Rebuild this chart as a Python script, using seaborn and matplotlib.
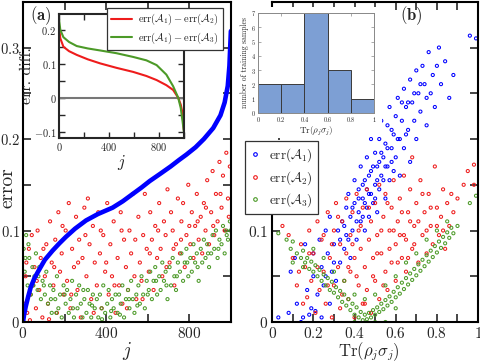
import numpy as np
import matplotlib
matplotlib.use('Agg')
import matplotlib.pyplot as plt
from matplotlib.ticker import MultipleLocator, FuncFormatter, FixedLocator
from matplotlib.lines import Line2D
from matplotlib.patches import Rectangle
import seaborn as sns

# --- data ---

# panel (a): sorted err(A1) against sample index j
blue_j = [0, 5, 13, 25, 37, 55, 77, 105, 142, 175, 206, 250, 303, 360, 431, 480, 528,
          570, 609, 660, 710, 750, 786, 830, 870, 915, 950, 970, 985, 993, 1000]
blue_err = [0.0, 0.008, 0.017, 0.028, 0.038, 0.048, 0.057, 0.068, 0.078, 0.086, 0.093,
            0.102, 0.111, 0.118, 0.125, 0.132, 0.140, 0.147, 0.154, 0.162, 0.170, 0.177,
            0.183, 0.191, 0.200, 0.212, 0.226, 0.240, 0.258, 0.280, 0.318]

# panel (a): err(A2) scatter
red_a = [(5, 0.02), (12, 0.05), (20, 0.01), (28, 0.08), (35, 0.03), (42, 0.095), (48, 0.04),
         (55, 0.06), (62, 0.015), (70, 0.1), (78, 0.035), (85, 0.07), (93, 0.005),
         (105, 0.05), (112, 0.085), (120, 0.02), (130, 0.11), (138, 0.065), (146, 0.04),
         (155, 0.09), (163, 0.01), (170, 0.12), (178, 0.055), (186, 0.075), (195, 0.03),
         (205, 0.1), (212, 0.045), (220, 0.13), (228, 0.015), (236, 0.08), (245, 0.06),
         (255, 0.115), (262, 0.035), (270, 0.09), (278, 0.005), (286, 0.07), (295, 0.125),
         (305, 0.05), (312, 0.135), (320, 0.085), (328, 0.025), (336, 0.105), (345, 0.065),
         (355, 0.04), (362, 0.12), (370, 0.075), (378, 0.015), (386, 0.095), (395, 0.055),
         (405, 0.13), (412, 0.03), (420, 0.085), (428, 0.05), (436, 0.11), (445, 0.01),
         (455, 0.07), (462, 0.04), (470, 0.12), (478, 0.02), (486, 0.09), (495, 0.06),
         (505, 0.035), (512, 0.1), (520, 0.075), (528, 0.14), (536, 0.05), (545, 0.025),
         (555, 0.115), (562, 0.065), (570, 0.045), (578, 0.095), (586, 0.14), (595, 0.08),
         (605, 0.055), (612, 0.12), (620, 0.09), (628, 0.035), (636, 0.105), (645, 0.07),
         (655, 0.13), (662, 0.08), (670, 0.05), (678, 0.11), (686, 0.095), (695, 0.145),
         (705, 0.065), (712, 0.12), (720, 0.1), (728, 0.04), (736, 0.085), (745, 0.135),
         (755, 0.075), (762, 0.11), (770, 0.13), (778, 0.06), (786, 0.095), (795, 0.15),
         (805, 0.085), (812, 0.12), (820, 0.07), (828, 0.105), (836, 0.14), (845, 0.09),
         (855, 0.115), (862, 0.075), (870, 0.13), (878, 0.1), (886, 0.155), (895, 0.085),
         (905, 0.12), (912, 0.165), (920, 0.095), (928, 0.14), (936, 0.11), (945, 0.175),
         (955, 0.125), (962, 0.16), (970, 0.1), (978, 0.185), (986, 0.135), (995, 0.17),
         (16, 0.065), (33, 0.002), (66, 0.045), (98, 0.08), (125, 0.003), (150, 0.06),
         (190, 0.105), (232, 0.03), (265, 0.065), (300, 0.095), (340, 0.01), (374, 0.1),
         (400, 0.065), (440, 0.04), (474, 0.1), (500, 0.015), (540, 0.09), (575, 0.025),
         (610, 0.075), (650, 0.1), (690, 0.06), (724, 0.08), (760, 0.09), (800, 0.105),
         (840, 0.11), (880, 0.125), (915, 0.105), (950, 0.14), (990, 0.115)]

# panel (a): err(A3) scatter
green_a = [(3, 0.08), (8, 0.055), (15, 0.095), (22, 0.04), (30, 0.07), (38, 0.03), (45, 0.06),
           (55, 0.05), (62, 0.075), (70, 0.035), (78, 0.06), (86, 0.025), (94, 0.045),
           (105, 0.03), (112, 0.055), (120, 0.02), (130, 0.04), (138, 0.01), (146, 0.035),
           (155, 0.025), (163, 0.05), (170, 0.015), (178, 0.03), (186, 0.005), (195, 0.04),
           (205, 0.02), (212, 0.035), (220, 0.01), (228, 0.025), (236, 0.045), (245, 0.005),
           (255, 0.03), (262, 0.015), (270, 0.04), (278, 0.02), (286, 0.005), (295, 0.025),
           (305, 0.01), (312, 0.035), (320, 0.02), (328, 0.005), (336, 0.03), (345, 0.015),
           (355, 0.025), (362, 0.005), (370, 0.03), (378, 0.015), (386, 0.04), (395, 0.01),
           (405, 0.02), (412, 0.035), (420, 0.005), (428, 0.025), (436, 0.015), (445, 0.03),
           (455, 0.01), (462, 0.03), (470, 0.02), (478, 0.04), (486, 0.005), (495, 0.025),
           (505, 0.035), (512, 0.015), (520, 0.045), (528, 0.025), (536, 0.01), (545, 0.03),
           (555, 0.04), (562, 0.02), (570, 0.05), (578, 0.03), (586, 0.015), (595, 0.045),
           (605, 0.035), (612, 0.055), (620, 0.025), (628, 0.045), (636, 0.06), (645, 0.03),
           (655, 0.05), (662, 0.035), (670, 0.065), (678, 0.045), (686, 0.055), (695, 0.025),
           (705, 0.06), (712, 0.04), (720, 0.07), (728, 0.05), (736, 0.035), (745, 0.065),
           (755, 0.055), (762, 0.075), (770, 0.045), (778, 0.065), (786, 0.08), (795, 0.05),
           (805, 0.07), (812, 0.055), (820, 0.085), (828, 0.065), (836, 0.075), (845, 0.045),
           (855, 0.08), (862, 0.065), (870, 0.09), (878, 0.07), (886, 0.085), (895, 0.06),
           (905, 0.075), (912, 0.095), (920, 0.08), (928, 0.1), (936, 0.07), (945, 0.09),
           (955, 0.085), (962, 0.105), (970, 0.075), (978, 0.1), (986, 0.09), (995, 0.11),
           (11, 0.07), (26, 0.085), (50, 0.04), (74, 0.05), (100, 0.04), (134, 0.025),
           (160, 0.01), (200, 0.03), (240, 0.015), (290, 0.035), (332, 0.018), (380, 0.003),
           (424, 0.012), (466, 0.008), (510, 0.025), (550, 0.018), (600, 0.03), (640, 0.045),
           (690, 0.04), (740, 0.05), (790, 0.065), (840, 0.06), (890, 0.075), (940, 0.08),
           (980, 0.095), (998, 0.1)]

# inset (a): sorted error differences
diff_j = [0, 10, 35, 80, 142, 230, 330, 460, 594, 700, 782, 860, 914, 955, 975, 990, 1000]
diff_12 = [0.21, 0.175, 0.15, 0.137, 0.126, 0.113, 0.101, 0.088, 0.076, 0.064, 0.052,
           0.037, 0.023, 0.0, -0.02, -0.046, -0.095]
diff_13 = [0.23, 0.2, 0.178, 0.164, 0.152, 0.145, 0.139, 0.131, 0.12, 0.11, 0.096,
           0.068, 0.034, 0.0, -0.03, -0.07, -0.1]

# panel (b): errors against Tr(rho_j sigma_j)
blue_b = [(0.03, 0.005), (0.08, 0.01), (0.09, 0.055), (0.11, 0.07), (0.12, 0.02), (0.14, 0.0),
          (0.15, 0.005), (0.16, 0.085), (0.17, 0.035), (0.18, 0.008), (0.19, 0.015), (0.2, 0.05),
          (0.2, 0.075), (0.21, 0.012), (0.22, 0.03), (0.23, 0.09), (0.24, 0.06), (0.24, 0.005),
          (0.25, 0.04), (0.26, 0.1), (0.27, 0.075), (0.28, 0.02), (0.28, 0.115), (0.29, 0.055),
          (0.3, 0.085), (0.31, 0.045), (0.32, 0.1), (0.33, 0.065), (0.34, 0.11), (0.35, 0.08),
          (0.36, 0.125), (0.36, 0.095), (0.37, 0.14), (0.38, 0.07), (0.38, 0.115), (0.39, 0.1),
          (0.4, 0.13), (0.4, 0.155), (0.41, 0.09), (0.42, 0.12), (0.42, 0.145), (0.43, 0.11),
          (0.43, 0.17), (0.44, 0.135), (0.45, 0.1), (0.45, 0.155), (0.46, 0.125), (0.46, 0.18),
          (0.47, 0.14), (0.47, 0.115), (0.48, 0.165), (0.48, 0.2), (0.49, 0.13), (0.5, 0.15),
          (0.5, 0.185), (0.51, 0.12), (0.51, 0.17), (0.52, 0.2), (0.52, 0.145), (0.53, 0.16),
          (0.53, 0.22), (0.54, 0.18), (0.55, 0.135), (0.55, 0.195), (0.56, 0.17), (0.56, 0.215),
          (0.57, 0.155), (0.57, 0.235), (0.58, 0.19), (0.59, 0.205), (0.59, 0.165), (0.6, 0.225),
          (0.6, 0.18), (0.61, 0.245), (0.62, 0.2), (0.62, 0.16), (0.63, 0.22), (0.64, 0.255),
          (0.64, 0.19), (0.65, 0.235), (0.66, 0.21), (0.67, 0.265), (0.67, 0.175), (0.68, 0.24),
          (0.69, 0.22), (0.7, 0.275), (0.7, 0.2), (0.71, 0.25), (0.72, 0.23), (0.73, 0.28),
          (0.74, 0.26), (0.75, 0.215), (0.76, 0.295), (0.77, 0.25), (0.78, 0.27), (0.79, 0.235),
          (0.8, 0.28), (0.81, 0.3), (0.82, 0.26), (0.84, 0.285), (0.86, 0.245), (0.88, 0.27),
          (0.96, 0.313), (0.99, 0.31),
          (0.35, 0.105), (0.37, 0.09), (0.39, 0.125), (0.41, 0.11), (0.42, 0.135),
          (0.44, 0.115), (0.44, 0.15), (0.45, 0.13), (0.46, 0.145), (0.47, 0.16), (0.48, 0.14),
          (0.49, 0.17), (0.5, 0.135), (0.51, 0.155), (0.52, 0.175), (0.53, 0.185), (0.54, 0.155),
          (0.55, 0.17), (0.56, 0.19), (0.58, 0.175), (0.58, 0.21), (0.61, 0.2), (0.63, 0.24),
          (0.65, 0.205), (0.66, 0.24), (0.69, 0.25), (0.72, 0.26), (0.75, 0.245), (0.3, 0.065),
          (0.26, 0.05), (0.33, 0.09)]

red_b = [(0.05, 0.105), (0.08, 0.095), (0.1, 0.07), (0.12, 0.04), (0.14, 0.085), (0.15, 0.02),
         (0.16, 0.06), (0.17, 0.027), (0.18, 0.1), (0.19, 0.045), (0.2, 0.075), (0.21, 0.01),
         (0.22, 0.11), (0.23, 0.035), (0.24, 0.09), (0.25, 0.055), (0.26, 0.02), (0.27, 0.12),
         (0.28, 0.07), (0.29, 0.005), (0.3, 0.1), (0.3, 0.04), (0.31, 0.13), (0.32, 0.06),
         (0.33, 0.085), (0.33, 0.015), (0.34, 0.11), (0.35, 0.045), (0.36, 0.075), (0.36, 0.135),
         (0.37, 0.025), (0.38, 0.095), (0.38, 0.055), (0.39, 0.12), (0.4, 0.005), (0.4, 0.07),
         (0.41, 0.14), (0.42, 0.04), (0.42, 0.1), (0.43, 0.08), (0.44, 0.02), (0.44, 0.125),
         (0.45, 0.06), (0.46, 0.145), (0.46, 0.035), (0.47, 0.09), (0.48, 0.11), (0.48, 0.01),
         (0.49, 0.07), (0.5, 0.13), (0.5, 0.045), (0.51, 0.095), (0.52, 0.025), (0.52, 0.15),
         (0.53, 0.075), (0.54, 0.115), (0.55, 0.055), (0.55, 0.14), (0.56, 0.035), (0.57, 0.1),
         (0.58, 0.125), (0.58, 0.065), (0.59, 0.155), (0.6, 0.085), (0.6, 0.045), (0.61, 0.11),
         (0.62, 0.135), (0.63, 0.07), (0.64, 0.16), (0.64, 0.095), (0.65, 0.055), (0.66, 0.12),
         (0.67, 0.145), (0.68, 0.08), (0.68, 0.18), (0.69, 0.105), (0.7, 0.13), (0.71, 0.065),
         (0.72, 0.155), (0.73, 0.095), (0.74, 0.12), (0.75, 0.075), (0.76, 0.14), (0.77, 0.105),
         (0.78, 0.085), (0.79, 0.17), (0.8, 0.125), (0.81, 0.095), (0.82, 0.115), (0.83, 0.145),
         (0.84, 0.08), (0.85, 0.13), (0.86, 0.105), (0.88, 0.12), (0.9, 0.135), (0.93, 0.15),
         (0.95, 0.165), (0.98, 0.15), (0.98, 0.172),
         (0.13, 0.055), (0.18, 0.075), (0.22, 0.06), (0.25, 0.095), (0.27, 0.04), (0.29, 0.085),
         (0.32, 0.115), (0.34, 0.03), (0.37, 0.06), (0.39, 0.085), (0.41, 0.05), (0.43, 0.105),
         (0.45, 0.02), (0.47, 0.125), (0.49, 0.05), (0.51, 0.075), (0.53, 0.1), (0.54, 0.04),
         (0.56, 0.13), (0.57, 0.08), (0.59, 0.1), (0.61, 0.065), (0.62, 0.095), (0.63, 0.12),
         (0.65, 0.09), (0.66, 0.07), (0.67, 0.11), (0.69, 0.085), (0.71, 0.11), (0.73, 0.14),
         (0.75, 0.1), (0.77, 0.125), (0.8, 0.105), (0.83, 0.1), (0.87, 0.14)]

green_b = [(0.03, 0.097), (0.07, 0.09), (0.09, 0.08), (0.1, 0.088), (0.1, 0.065), (0.12, 0.075),
           (0.14, 0.07), (0.15, 0.078), (0.15, 0.06), (0.16, 0.065), (0.17, 0.07), (0.18, 0.058),
           (0.19, 0.066), (0.2, 0.055), (0.2, 0.08), (0.21, 0.062), (0.22, 0.05), (0.23, 0.057),
           (0.24, 0.045), (0.25, 0.052), (0.25, 0.07), (0.26, 0.04), (0.27, 0.048), (0.28, 0.035),
           (0.29, 0.044), (0.3, 0.032), (0.3, 0.055), (0.31, 0.038), (0.32, 0.027), (0.33, 0.034),
           (0.34, 0.022), (0.35, 0.03), (0.35, 0.045), (0.36, 0.018), (0.37, 0.025), (0.38, 0.013),
           (0.39, 0.02), (0.4, 0.008), (0.4, 0.03), (0.4, 0.0), (0.41, 0.016), (0.42, 0.005),
           (0.43, 0.011), (0.44, 0.002), (0.45, 0.008), (0.45, 0.025), (0.46, 0.003), (0.47, 0.01),
           (0.48, 0.005), (0.49, 0.013), (0.5, 0.008), (0.5, 0.03), (0.5, 0.0), (0.51, 0.016),
           (0.52, 0.011), (0.53, 0.02), (0.54, 0.014), (0.55, 0.024), (0.55, 0.04), (0.55, 0.0),
           (0.56, 0.018), (0.57, 0.028), (0.58, 0.022), (0.59, 0.033), (0.6, 0.027), (0.6, 0.05),
           (0.6, 0.015), (0.61, 0.038), (0.62, 0.031), (0.63, 0.043), (0.64, 0.036), (0.65, 0.048),
           (0.65, 0.065), (0.66, 0.041), (0.67, 0.053), (0.68, 0.046), (0.69, 0.058), (0.7, 0.051),
           (0.7, 0.075), (0.71, 0.063), (0.72, 0.056), (0.73, 0.068), (0.74, 0.061), (0.75, 0.073),
           (0.75, 0.09), (0.76, 0.066), (0.77, 0.078), (0.78, 0.071), (0.79, 0.083), (0.8, 0.076),
           (0.8, 0.1), (0.81, 0.088), (0.82, 0.081), (0.83, 0.093), (0.84, 0.086), (0.85, 0.098),
           (0.85, 0.11), (0.86, 0.092), (0.87, 0.103), (0.88, 0.097), (0.9, 0.105), (0.96, 0.13),
           (0.99, 0.138)]

# histogram inset (b)
hist_edges = [0, 0.2, 0.4, 0.6, 0.8, 1.0]
hist_counts = [2, 2, 7, 3, 1]

# --- style ---
sns.set_style("ticks")
plt.rcParams['font.family'] = 'serif'
plt.rcParams['font.serif'] = ['cmr10']
plt.rcParams['mathtext.fontset'] = 'cm'
plt.rcParams['axes.formatter.use_mathtext'] = True

BLUE = '#0000ff'
RED = '#ee1c1c'
GREEN = '#4c9a28'


def fmt(v, pos):
    v = round(v, 6)
    if v == 0:
        v = 0.0
    return f'${v:g}$'


def style_main(ax):
    ax.set_ylim(0, 0.35)
    ax.yaxis.set_major_locator(MultipleLocator(0.1))
    ax.yaxis.set_minor_locator(MultipleLocator(0.05))
    ax.tick_params(which='both', direction='in', top=True, right=True,
                   width=1.2, length=6, labelsize=11, pad=3)
    for s in ax.spines.values():
        s.set_linewidth(1.5)
        s.set_color('k')


def scatter(ax, pts, color):
    xs = [p[0] for p in pts]
    ys = [p[1] for p in pts]
    sns.scatterplot(x=xs, y=ys, ax=ax, marker='o', s=5, facecolor='none',
                    edgecolor=color, linewidth=0.75)


fig = plt.figure(figsize=(4.8, 3.61), dpi=100)

# ---- panel (a) ----
ax_a = fig.add_axes([0.048, 0.108, 0.433, 0.887])
style_main(ax_a)
ax_a.tick_params(axis='y', labelsize=10.5, pad=2)
scatter(ax_a, red_a, RED)
scatter(ax_a, green_a, GREEN)
sns.lineplot(x=blue_j, y=blue_err, ax=ax_a, color=BLUE, lw=3.3)
ax_a.set_xlim(0, 1000)
ax_a.xaxis.set_major_locator(MultipleLocator(400))
ax_a.xaxis.set_minor_locator(MultipleLocator(200))
ax_a.xaxis.set_major_formatter(FuncFormatter(fmt))
ax_a.yaxis.set_major_formatter(FuncFormatter(fmt))
ax_a.set_xlabel('$j$', fontsize=14)
ax_a.set_ylabel('error', fontsize=14)
ax_a.xaxis.set_label_coords(0.5, -0.056)
ax_a.yaxis.set_label_coords(-0.03, 0.42)

# inset of (a)
ax_in = fig.add_axes([0.123, 0.618, 0.260, 0.343], zorder=2)
ax_in.axhline(0, color='#777777', lw=1.5)
sns.lineplot(x=diff_j, y=diff_12, ax=ax_in, color=RED, lw=1.5)
sns.lineplot(x=diff_j, y=diff_13, ax=ax_in, color=GREEN, lw=1.5)
ax_in.set_xlim(0, 1000)
ax_in.set_ylim(-0.118, 0.246)
ax_in.xaxis.set_major_locator(MultipleLocator(400))
ax_in.xaxis.set_minor_locator(MultipleLocator(200))
ax_in.yaxis.set_major_locator(MultipleLocator(0.1))
ax_in.yaxis.set_minor_locator(MultipleLocator(0.05))
ax_in.xaxis.set_major_formatter(FuncFormatter(fmt))
ax_in.yaxis.set_major_formatter(FuncFormatter(fmt))
ax_in.tick_params(which='both', direction='in', top=True, right=True,
                  width=1, length=4, labelsize=7.5, pad=2)
for s in ax_in.spines.values():
    s.set_linewidth(1.5)
ax_in.set_xlabel('$j$', fontsize=12, labelpad=0)
ax_in.set_ylabel('err. diff.', fontsize=11.5, labelpad=0)

leg_a = fig.legend(handles=[Line2D([], [], color=RED, lw=1.5),
                            Line2D([], [], color=GREEN, lw=1.5)],
                   labels=[r'$\mathrm{err}(\mathcal{A}_1)-\mathrm{err}(\mathcal{A}_2)$',
                           r'$\mathrm{err}(\mathcal{A}_1)-\mathrm{err}(\mathcal{A}_3)$'],
                   loc='upper left', bbox_to_anchor=(0.223, 0.978), borderaxespad=0,
                   fontsize=7.5, frameon=True, fancybox=False, framealpha=1,
                   edgecolor='#333333', handlelength=2.0, labelspacing=0.3,
                   borderpad=0.4, handletextpad=0.6)
leg_a.get_frame().set_linewidth(0.9)

fig.text(0.062, 0.958, r'$\mathbf{(a)}$', fontsize=12, ha='left', va='center')

# ---- panel (b) ----
ax_b = fig.add_axes([0.567, 0.108, 0.429, 0.887])
style_main(ax_b)
scatter(ax_b, blue_b, BLUE)
scatter(ax_b, red_b, RED)
scatter(ax_b, green_b, GREEN)
ax_b.set_xlim(0, 1)
ax_b.xaxis.set_major_locator(MultipleLocator(0.2))
ax_b.xaxis.set_minor_locator(MultipleLocator(0.1))
ax_b.xaxis.set_major_formatter(FuncFormatter(fmt))
ax_b.yaxis.set_major_formatter(FuncFormatter(lambda v, p: fmt(v, p) if v < 0.15 else ''))
ax_b.set_xlabel(r'$\mathrm{Tr}(\rho_j\sigma_j)$', fontsize=12)
ax_b.xaxis.set_label_coords(0.47, -0.058)

# white area behind the histogram inset and the legend of (b)
fig.add_artist(Rectangle((0.50, 0.623), 0.296, 0.358, transform=fig.transFigure,
                         facecolor='white', edgecolor='none', zorder=1))
fig.add_artist(Rectangle((0.50, 0.41), 0.079, 0.215, transform=fig.transFigure,
                         facecolor='white', edgecolor='none', zorder=1))

ax_h = fig.add_axes([0.5375, 0.687, 0.242, 0.277], zorder=2)
centers = [(hist_edges[i] + hist_edges[i + 1]) / 2 for i in range(len(hist_counts))]
sns.histplot(x=centers, weights=hist_counts, bins=hist_edges, ax=ax_h,
             color='#7d9fd4', alpha=1, edgecolor='#3a3a3a', linewidth=0.7)
ax_h.set_xlim(0, 1)
ax_h.set_ylim(0, 7)
ax_h.xaxis.set_major_locator(FixedLocator(hist_edges))
ax_h.yaxis.set_major_locator(MultipleLocator(1))
ax_h.xaxis.set_major_formatter(FuncFormatter(fmt))
ax_h.yaxis.set_major_formatter(FuncFormatter(fmt))
ax_h.tick_params(which='both', direction='in', top=True, right=True, width=0.5,
                 length=2, labelsize=4.5, pad=1.5, color='#888888')
for s in ax_h.spines.values():
    s.set_linewidth(0.7)
    s.set_color('#888888')
ax_h.set_xlabel(r'$\mathrm{Tr}(\rho_j\sigma_j)$', fontsize=6.5, labelpad=0.5)
ax_h.set_ylabel('number of training samples', fontsize=5.5, labelpad=1)

leg_b = fig.legend(handles=[Line2D([], [], ls='none', marker='o', ms=2.6, mfc='none', mec=c, mew=0.8)
                            for c in (BLUE, RED, GREEN)],
                   labels=[r'$\mathrm{err}(\mathcal{A}_1)$', r'$\mathrm{err}(\mathcal{A}_2)$',
                           r'$\mathrm{err}(\mathcal{A}_3)$'],
                   loc='upper left', bbox_to_anchor=(0.510, 0.609), borderaxespad=0,
                   fontsize=9.5, frameon=True, fancybox=False, framealpha=1,
                   edgecolor='#333333', handlelength=0.8, labelspacing=0.35,
                   borderpad=0.4, handletextpad=0.6)
leg_b.get_frame().set_linewidth(0.9)

fig.text(0.833, 0.958, r'$\mathbf{(b)}$', fontsize=12, ha='left', va='center')

fig.savefig('out.png', dpi=100)
